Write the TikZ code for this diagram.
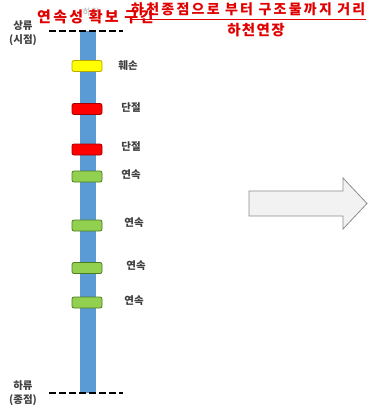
\documentclass[tikz,border=0pt]{standalone}
\usepackage{fontspec}
\setmainfont{Noto Sans CJK KR}
\newfontfamily\krfont{Noto Sans CJK KR}
\newfontfamily\krwideA[LetterSpace=15]{Noto Sans CJK KR}
\newfontfamily\krwideB[LetterSpace=16]{Noto Sans CJK KR}
\newfontfamily\krwideC[LetterSpace=9]{Noto Sans CJK KR}
\definecolor{barblue}{HTML}{5B9BD5}
\definecolor{segyellow}{HTML}{FFFF00}
\definecolor{segyellowd}{HTML}{B8A800}
\definecolor{segred}{HTML}{FF0000}
\definecolor{segredd}{HTML}{A00000}
\definecolor{seggreen}{HTML}{92D050}
\definecolor{seggreend}{HTML}{4E7A22}
\definecolor{lbl}{HTML}{404040}
\definecolor{titlered}{HTML}{E00000}
\definecolor{arrowfill}{HTML}{F2F2F2}
\definecolor{arrowline}{HTML}{8C8C8C}
\tikzset{
  seg/.style={draw, line width=0.8pt, rounded corners=2pt, minimum width=30pt, minimum height=11pt, inner sep=0pt},
  yseg/.style={seg, fill=segyellow, draw=segyellowd},
  rseg/.style={seg, fill=segred, draw=segredd},
  gseg/.style={seg, fill=seggreen, draw=seggreend},
  lab/.style={font=\fontsize{10.5}{12}\selectfont\bfseries, text=lbl, inner sep=0pt},
  endlab/.style={font=\fontsize{10.5}{13}\selectfont\bfseries, text=lbl, inner sep=0pt, align=center},
  dashline/.style={line width=2.4pt, dash pattern=on 7pt off 3pt},
  redtitle/.style={text=titlered, inner sep=0pt},
}
\begin{document}
\begin{tikzpicture}[x=1pt,y=-1pt]
\useasboundingbox (0,0) rectangle (382,410);
% gray label behind
\node[font=\fontsize{9}{10}\selectfont, text=gray!70, inner sep=0pt] (hc) at (91,12) {하천};
% blue bar
\fill[barblue] (80,31) rectangle (96,393);
\coordinate (tl) at (49,31); \coordinate (tr) at (123,31);
\coordinate (bl) at (49,393); \coordinate (br) at (123,393);
\draw[dashline] (tl) -- (tr);
\draw[dashline] (bl) -- (br);
% end labels
\node[endlab] (up) at (23,33) {상류\\[1pt](시점)};
\node[endlab] (dn) at (23,393) {하류\\[1pt](종점)};
% segments
\node[yseg] (s1) at (87,66) {};
\node[rseg] (s2) at (87,109) {};
\node[rseg] (s3) at (87,149.5) {};
\node[gseg] (s4) at (87,176.5) {};
\node[gseg] (s5) at (87,225.5) {};
\node[gseg] (s6) at (87,268) {};
\node[gseg] (s7) at (87,302.5) {};
% labels
\node[lab] (l1) at (128,66) {훼손};
\node[lab] (l2) at (131,108) {단절};
\node[lab] (l3) at (131,147) {단절};
\node[lab] (l4) at (131,175) {연속};
\node[lab] (l5) at (134,223) {연속};
\node[lab] (l6) at (136,266) {연속};
\node[lab] (l7) at (134,301) {연속};
% big arrow
\draw[arrowline, fill=arrowfill, line width=0.8pt, line join=miter]
  (249,191) -- (343,191) -- (343,178) -- (367,203.5) -- (343,229) -- (343,216) -- (249,216) -- cycle;
% titles
\node[redtitle, font=\krwideA\fontsize{15}{17}\selectfont\bfseries, anchor=west] (t1) at (37,17) {연속성 확보 구간};
\node[redtitle, font=\krwideB\fontsize{14}{16}\selectfont\bfseries, anchor=west] (t2) at (131,9.5) {하천종점으로 부터 구조물까지 거리};
\draw[titlered, line width=0.8pt] (t2.south west) ++(0,3) coordinate (u1) -- (u1 -| t2.east);
\node[redtitle, font=\krwideC\fontsize{14.5}{16}\selectfont\bfseries] (t3) at (256,30) {하천연장};
\end{tikzpicture}
\end{document}
